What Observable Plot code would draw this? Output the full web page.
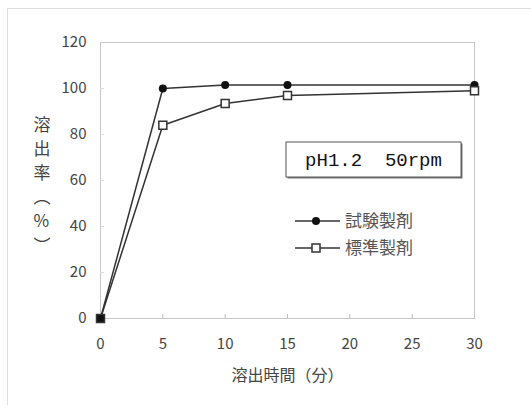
<!DOCTYPE html>
<html><head><meta charset="utf-8">
<script src="https://cdn.jsdelivr.net/npm/d3@7"></script>
<script src="https://cdn.jsdelivr.net/npm/@observablehq/plot@0.6"></script>
<style>body{margin:0;background:#fff}</style>
</head><body><div id="chart"></div>
<script>
const times = [0, 5, 10, 15, 30];
const testValues = [0, 100, 101.5, 101.5, 101.5];
const refValues = [0, 84, 93.5, 97, 99];
const seriesNames = ["試験製剤", "標準製剤"];
const xTicks = [0, 5, 10, 15, 20, 25, 30];
const yTicks = [0, 20, 40, 60, 80, 100, 120];
const xLabel = "溶出時間（分）";
const yLabelChars = ["溶", "出", "率", "︵", "%", "︶"];
const annotation = "pH1.2  50rpm";

const W = 531, H = 405;
const mL = 100, mR = 57, mT = 42, mB = 87;
const innerW = W - mL - mR, innerH = H - mT - mB;
const FONT = "'Noto Sans CJK JP', sans-serif";

const test = times.map((t, i) => ({t, v: testValues[i], s: seriesNames[0]}));
const ref = times.map((t, i) => ({t, v: refValues[i], s: seriesNames[1]}));
const rows = test.concat(ref);

function overlay(index, scales, values, dims, context) {
  const g = d3.select(context.document.createElementNS("http://www.w3.org/2000/svg", "g"));
  const L = dims.marginLeft, T = dims.marginTop;
  // annotation box
  const bx = L + 186, by = T + 100, bw = 175, bh = 35;
  g.append("rect").attr("x", bx + 1.5).attr("y", by + 1.5).attr("width", bw).attr("height", bh)
    .attr("fill", "#777");
  g.append("rect").attr("x", bx).attr("y", by).attr("width", bw).attr("height", bh)
    .attr("fill", "#fff").attr("stroke", "#555").attr("stroke-width", 1);
  g.append("text").attr("x", bx + bw / 2).attr("y", by + bh / 2).attr("dy", "0.36em")
    .attr("text-anchor", "middle").attr("font-family", "'Liberation Mono', monospace")
    .attr("font-size", 19).attr("fill", "#111")
    .style("white-space", "pre").text(annotation);
  // legend
  const lx = L + 195, lw = 45, ly0 = T + 179, lstep = 27;
  seriesNames.forEach((name, i) => {
    const y = ly0 + i * lstep;
    g.append("line").attr("x1", lx).attr("x2", lx + lw).attr("y1", y).attr("y2", y)
      .attr("stroke", "#333").attr("stroke-width", 1.5);
    if (i === 0) {
      g.append("circle").attr("cx", lx + 21).attr("cy", y).attr("r", 4).attr("fill", "#111");
    } else {
      g.append("rect").attr("x", lx + 17).attr("y", y - 4).attr("width", 8).attr("height", 8)
        .attr("fill", "#fff").attr("stroke", "#333").attr("stroke-width", 1.5);
    }
    g.append("text").attr("x", lx + lw + 5).attr("y", y).attr("dy", "0.36em")
      .attr("text-anchor", "start")
      .attr("font-family", FONT).attr("font-size", 17).attr("fill", "#555").text(name);
  });
  return g.node();
}

function border(index, scales, values, dims, context) {
  const g = d3.select(context.document.createElementNS("http://www.w3.org/2000/svg", "g"));
  g.append("rect").attr("x", 7.5).attr("y", 8.5).attr("width", 700).attr("height", 700)
    .attr("fill", "none").attr("stroke", "#ddd");
  return g.node();
}

const chart = Plot.plot({
  width: W, height: H,
  marginLeft: mL, marginRight: mR, marginTop: mT, marginBottom: mB,
  style: {fontFamily: FONT, fontSize: "15px", background: "#fff", color: "#444"},
  x: {domain: [0, 30], label: null},
  y: {domain: [0, 120], label: null},
  marks: [
    border,
    Plot.frame({stroke: "#c8c8c8"}),
    Plot.ruleX(xTicks.slice(1, -1), {stroke: "#bbb", insetTop: innerH - 4}),
    Plot.ruleY(yTicks.slice(1, -1), {stroke: "#ddd", insetRight: innerW - 4}),
    Plot.axisX(xTicks, {tickSize: 0, tickPadding: 20, fill: "#444", fontSize: 15}),
    Plot.axisY(yTicks, {tickSize: 0, tickPadding: 14, fill: "#444", fontSize: 15}),
    Plot.text([xLabel], {frameAnchor: "bottom", dy: 57, fill: "#444", fontSize: 16, lineAnchor: "middle"}),
    Plot.text([yLabelChars.join("\n")], {frameAnchor: "left", dx: -67, dy: 3, fill: "#444", fontSize: 17, lineHeight: 1.42, lineAnchor: "middle"}),
    Plot.line(rows, {x: "t", y: "v", z: "s", stroke: "#333", strokeWidth: 1.5}),
    Plot.dot(test, {x: "t", y: "v", r: 4, fill: "#111"}),
    Plot.dot(ref, {x: "t", y: "v", symbol: "square", r: 4.5, fill: d => d.t === 0 ? "#111" : "#fff", stroke: "#333", strokeWidth: 1.5}),
    overlay
  ]
});
document.getElementById("chart").appendChild(chart);
</script>
</body></html>
